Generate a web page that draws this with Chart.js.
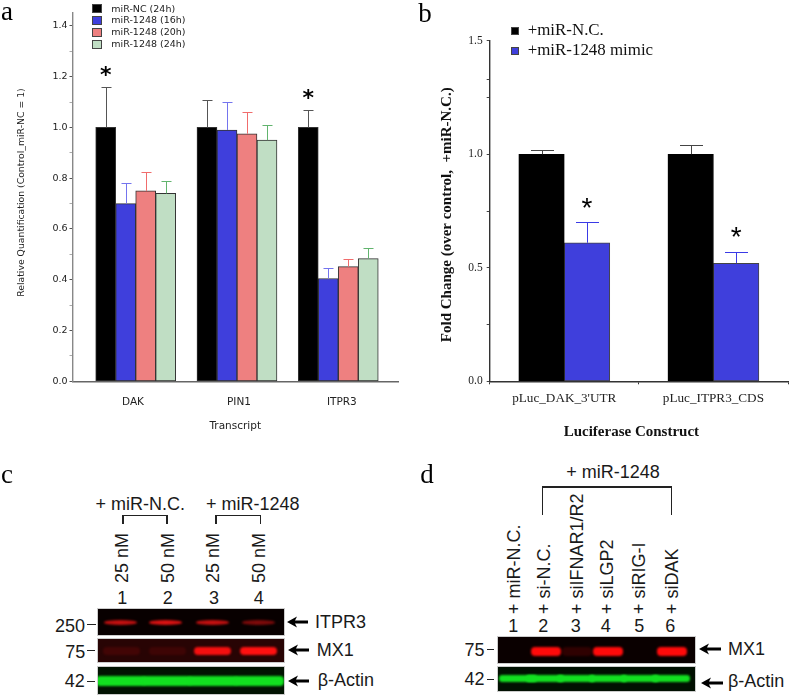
<!DOCTYPE html>
<html>
<head>
<meta charset="utf-8">
<script src="https://cdn.jsdelivr.net/npm/chart.js@4"></script>
<style>
html, body { margin: 0; padding: 0; background: #fff; }
#page { position: relative; width: 791px; height: 697px; overflow: hidden; }
#page canvas { position: absolute; }
.t { position: absolute; white-space: pre; line-height: 1; color: #1a1a1a; font-family: "Liberation Sans", sans-serif; font-size: 18px; }
.mid { transform: translate(-50%, -50%); }
.left { transform: translateY(-50%); }
.up { transform: translate(-50%, -50%) rotate(-90deg); }
.upEnd { transform-origin: 0 0; transform: rotate(-90deg) translateY(-50%); }
.blot { position: absolute; overflow: hidden; box-shadow: 0 0 0 1px #ccc; }
.band { position: absolute; filter: blur(1.2px); }
.sq { position: absolute; box-sizing: border-box; }
.ln { position: absolute; background: #222; }
</style>
</head>
<body>
<div id="page">
  <canvas id="chartA" width="400" height="440" style="left:0;top:0"></canvas>
  <canvas id="chartB" width="391" height="450" style="left:400px;top:0"></canvas>
</div>
<script>
// panel a: qPCR
const transcripts = ['DAK', 'PIN1', 'ITPR3'];
const seriesA = ['miR-NC (24h)', 'miR-1248 (16h)', 'miR-1248 (20h)', 'miR-1248 (24h)'];
const nc24 = [1.0, 1.0, 1.0];
const mir16 = [0.70, 0.99, 0.405];
const mir20 = [0.75, 0.975, 0.452];
const mir24 = [0.74, 0.95, 0.483];
const nc24Top = [1.16, 1.11, 1.07];
const mir16Top = [0.78, 1.10, 0.447];
const mir20Top = [0.825, 1.06, 0.482];
const mir24Top = [0.79, 1.01, 0.525];
const labelSpotsA = [-0.027, 1.02, 2.035];

// panel b: luciferase
const constructs = ["pLuc_DAK_3'UTR", 'pLuc_ITPR3_CDS'];
const seriesB = ['+miR-N.C.', '+miR-1248 mimic'];
const ncB = [1.0, 1.0];
const mimicB = [0.61, 0.52];
const ncBTop = [1.02, 1.04];
const mimicBTop = [0.70, 0.57];
const yTicksB = [0, 0.25, 0.5, 0.75, 1, 1.25, 1.33, 1.5];

// blots: band strength per lane
const itpr3C = [0.8, 0.9, 0.8, 0.5];
const mx1C = [0.12, 0.1, 0.95, 1];
const actinC = [1, 1, 1, 1];
const mx1D = [0, 1, 0.15, 1, 0, 1];
const actinD = [1, 1, 1, 1, 1, 1];

const colors = ['#000000', '#3f3fdc', '#ee8080', '#c0dec4'];
const errColors = ['#555555', '#7474ee', '#f06c6c', '#62b46e'];

const errorBars = {
    id: 'errorBars',
    afterDatasetsDraw(chart, args, opts) {
        const ctx = chart.ctx;
        const y = chart.scales.y;
        ctx.save();
        opts.tops.forEach((tops, ds) => {
            const meta = chart.getDatasetMeta(ds);
            ctx.strokeStyle = opts.colors[ds];
            ctx.lineWidth = 1;
            tops.forEach((top, i) => {
                const bar = meta.data[i];
                const py = Math.round(y.getPixelForValue(top)) + 0.5;
                const px = Math.round(bar.x) + 0.5;
                ctx.beginPath();
                ctx.moveTo(px, bar.y);
                ctx.lineTo(px, py);
                ctx.moveTo(px - opts.cap, py);
                ctx.lineTo(px + opts.cap, py);
                ctx.stroke();
            });
        });
        // significance stars
        ctx.fillStyle = '#000';
        ctx.font = opts.starFont;
        ctx.textAlign = 'center';
        opts.stars.forEach(s => {
            const bar = chart.getDatasetMeta(s.ds).data[s.i];
            const m = ctx.measureText('*');
            const py = y.getPixelForValue(s.at);
            ctx.fillText('*', bar.x, py + (m.actualBoundingBoxAscent - m.actualBoundingBoxDescent) / 2);
        });
        ctx.restore();
    }
};

function barSet(label, values, idx, border) {
    return {
        label,
        data: values,
        backgroundColor: colors[idx],
        borderColor: border,
        borderWidth: 1,
        borderSkipped: false
    };
}

const sansA = { family: "'DejaVu Sans'", size: 9.5 };
new Chart(document.getElementById('chartA'), {
    type: 'bar',
    data: {
        datasets: [nc24, mir16, mir20, mir24].map((vals, k) => {
            const d = barSet(seriesA[k], vals.map((v, i) => ({ x: i, y: v })), k, '#333333');
            return d;
        })
    },
    options: {
        responsive: false,
        animation: false,
        barThickness: 20,
        layout: { padding: { left: 0, right: 2, top: 12.7, bottom: 0 } },
        plugins: {
            legend: { display: false },
            tooltip: { enabled: false },
            errorBars: {
                tops: [nc24Top, mir16Top, mir20Top, mir24Top],
                colors: errColors,
                cap: 5,
                starFont: "bold 22px 'DejaVu Sans'",
                stars: [{ ds: 0, i: 0, at: 1.224 }, { ds: 0, i: 2, at: 1.132 }]
            }
        },
        scales: {
            x: {
                type: 'linear',
                offset: false,
                min: -0.624,
                max: 2.59,
                afterFit: s => { s.height = 58.7; },
                afterBuildTicks: s => { s.ticks = labelSpotsA.map(v => ({ value: v })); },
                grid: { display: false },
                border: { color: '#666', width: 1.4 },
                ticks: {
                    padding: 7,
                    maxRotation: 0,
                    autoSkip: false,
                    color: '#222',
                    font: { family: "'DejaVu Sans'", size: 10.5 },
                    callback: (v, i) => transcripts[i]
                },
                title: {
                    display: true,
                    text: 'Transcript',
                    color: '#222',
                    font: { family: "'DejaVu Sans'", size: 10.5 },
                    padding: { top: 0, bottom: 7.7 }
                }
            },
            y: {
                min: 0,
                max: 1.452,
                afterFit: s => { s.width = 72.5; },
                grid: {
                    drawOnChartArea: false,
                    tickLength: 3,
                    tickColor: c => Math.round(c.tick.value * 10) % 2 === 0 ? '#555' : '#aaa'
                },
                border: { color: '#888', width: 1.4 },
                ticks: {
                    stepSize: 0.1,
                    includeBounds: false,
                    autoSkip: false,
                    padding: 2,
                    color: '#222',
                    font: sansA,
                    callback: v => Math.round(v * 10) % 2 === 0 ? v.toFixed(1) : ''
                },
                title: {
                    display: true,
                    // leading spaces nudge the centred title up the axis
                    text: '   Relative Quantification (Control_miR-NC = 1)',
                    color: '#222',
                    font: { family: "'DejaVu Sans'", size: 9.3 },
                    padding: { top: 16.3, bottom: 0 }
                }
            }
        }
    },
    plugins: [errorBars]
});

const serifB = "'Liberation Serif'";
new Chart(document.getElementById('chartB'), {
    type: 'bar',
    data: {
        labels: constructs,
        datasets: [barSet(seriesB[0], ncB, 0, '#000'), barSet(seriesB[1], mimicB, 1, '#444')]
    },
    options: {
        responsive: false,
        animation: false,
        barThickness: 45.5,
        layout: { padding: { left: 0, right: 3, top: 40.7, bottom: 0 } },
        plugins: {
            legend: { display: false },
            tooltip: { enabled: false },
            errorBars: {
                tops: [ncBTop, mimicBTop],
                colors: ['#444', '#3a3ae6'],
                cap: 11.5,
                starFont: "28px 'Liberation Sans'",
                stars: [{ ds: 1, i: 0, at: 0.787 }, { ds: 1, i: 1, at: 0.659 }]
            }
        },
        scales: {
            x: {
                afterFit: s => { s.height = 68.7; },
                grid: { drawOnChartArea: false, tickLength: 3, tickColor: '#333', offset: true },
                border: { color: '#333', width: 1.4 },
                ticks: {
                    padding: 6,
                    maxRotation: 0,
                    color: '#222',
                    font: { family: serifB, size: 13.2 }
                },
                title: {
                    display: true,
                    // trailing spaces nudge the centred title left
                    text: 'Luciferase Construct    ',
                    color: '#111',
                    font: { family: serifB, size: 15, weight: 'bold' },
                    padding: { top: 0, bottom: 9 }
                }
            },
            y: {
                min: 0,
                max: 1.5,
                afterFit: s => { s.width = 89.7; },
                afterBuildTicks: s => { s.ticks = yTicksB.map(v => ({ value: v })); },
                grid: { drawOnChartArea: false, tickLength: 3, tickColor: '#444' },
                border: { color: '#333', width: 1.4 },
                ticks: {
                    padding: 4,
                    autoSkip: false,
                    color: '#222',
                    font: { family: serifB, size: 11.5 },
                    callback: v => (v * 100) % 50 === 0 ? v.toFixed(1) : ''
                },
                title: {
                    display: true,
                    text: 'Fold Change (over control,  +miR-N.C.)  ',
                    color: '#111',
                    font: { family: serifB, size: 15, weight: 'bold' },
                    padding: { top: 37.7, bottom: 0 }
                }
            }
        }
    },
    plugins: [errorBars]
});

// everything else sits on top as plain DOM
const page = document.getElementById('page');

function put(el, x, y) {
    el.style.left = x + 'px';
    el.style.top = y + 'px';
    page.appendChild(el);
    return el;
}

function text(str, x, y, cls, css) {
    const el = document.createElement('div');
    el.className = 't ' + (cls || 'mid');
    el.textContent = str;
    Object.assign(el.style, css || {});
    return put(el, x, y);
}

function box(cls, x, y, w, h, bg) {
    const el = document.createElement('div');
    el.className = cls;
    el.style.width = w + 'px';
    el.style.height = h + 'px';
    if (bg) el.style.background = bg;
    return put(el, x, y);
}

function blot(x, y, w, h, bg, strengths, lanes, opts) {
    const el = box('blot', x, y, w, h, bg);
    strengths.forEach((s, i) => {
        if (!s) return;
        const b = document.createElement('div');
        b.className = 'band';
        b.style.left = (lanes[i] - x - opts.w / 2) + 'px';
        b.style.top = (opts.y - y - opts.h / 2) + 'px';
        b.style.width = opts.w + 'px';
        b.style.height = opts.h + 'px';
        b.style.background = opts.color;
        b.style.opacity = s;
        b.style.borderRadius = opts.r;
        el.appendChild(b);
    });
}

function arrow(x, y, len) {
    const svg = document.createElementNS('http://www.w3.org/2000/svg', 'svg');
    svg.setAttribute('width', len);
    svg.setAttribute('height', 12);
    svg.style.position = 'absolute';
    svg.innerHTML = `<path d="M0 6 L10 0.5 L8 4.5 L${len} 4.5 L${len} 7.5 L8 7.5 L10 11.5 Z" fill="#000"/>`;
    put(svg, x, y - 6);
}

// panel letters
const letter = { fontFamily: "'Liberation Serif'", fontSize: '27px', color: '#000' };
text('a', 7, 11, 'mid', letter);
text('b', 425, 13, 'mid', letter);
text('c', 7, 474, 'mid', letter);
text('d', 427, 474, 'mid', letter);

// legend a
seriesA.forEach((name, i) => {
    const yy = [8.7, 20.3, 32.3, 44.3][i];
    const sq = box('sq', 92.3, yy - 4.5, 9.5, 9, colors[i]);
    sq.style.border = '1px solid #444';
    text(name, 111.3, yy, 'left', { fontFamily: "'DejaVu Sans'", fontSize: '9.5px', color: '#222' });
});

// legend b
seriesB.forEach((name, i) => {
    const yy = [31, 51][i];
    const sq = box('sq', 510.7, yy - 4, 8, 8, colors[i]);
    sq.style.border = '1px solid #444';
    text(name, 527.7, yy - 1, 'left', { fontFamily: "'Liberation Serif'", fontSize: '16.9px', color: '#111' });
});

// panel c
text('+ miR-N.C.', 140.3, 504.3);
text('+ miR-1248', 252.7, 504.3);
[[122.3, 166.3], [215.3, 259.7]].forEach(([l, r]) => {
    box('ln', l, 515, r - l + 1, 1.4);
    box('ln', l, 515, 1.4, 9);
    box('ln', r, 515, 1.4, 9);
});
['25 nM', '50 nM', '25 nM', '50 nM'].forEach((s, i) => {
    text(s, [122.3, 168.3, 213.3, 259.3][i], 558.3, 'up');
});
['1', '2', '3', '4'].forEach((s, i) => {
    text(s, [122.3, 167.7, 214, 258.7][i], 598.3);
});
const lanesC = [120.7, 165.7, 212.8, 259];
blot(98.3, 609, 185.7, 26, '#080000', itpr3C, lanesC, { y: 622.7, w: 33, h: 4.5, color: '#f01414', r: '50%' });
blot(98.3, 639, 185.7, 23.3, '#280404', mx1C, [122, 168, 213, 258.5], { y: 651, w: 37, h: 8.5, color: '#ff1010', r: '4px' });
blot(98.3, 667.3, 185.7, 27, '#021302', actinC, [121, 167, 213, 259], { y: 681, w: 50, h: 9.5, color: '#12e020', r: '4px' });
text('250', 70, 625.7);
text('75', 75.3, 651.7);
text('42', 74.7, 681);
box('ln', 87.3, 624, 9, 1);
box('ln', 87.3, 650, 8, 1);
box('ln', 87.3, 681, 8, 1);
arrow(287.3, 622, 21);
arrow(287.6, 650, 21);
arrow(288, 681, 21);
text('ITPR3', 315, 622, 'left');
text('MX1', 316.7, 650, 'left');
text('\u03b2-Actin', 317.7, 679.7, 'left');

// panel d
text('+ miR-1248', 613, 472);
box('ln', 542.3, 486.4, 129, 1.2);
box('ln', 542.3, 486.4, 1.2, 29);
box('ln', 670.7, 486.4, 1.2, 29);
['+ miR-N.C.', '+ si-N.C.', '+ siIFNAR1/R2', '+ siLGP2', '+ siRIG-I', '+ siDAK'].forEach((s, i) => {
    text(s, [514.3, 544, 577.3, 607.3, 639.3, 671.7][i], 614, 'upEnd');
});
['1', '2', '3', '4', '5', '6'].forEach((s, i) => {
    text(s, [513.3, 543.3, 575.7, 605.7, 639.3, 670.3][i], 625.7);
});
blot(498.3, 637.3, 196.7, 25.4, '#0a0000', mx1D, [514, 545.7, 576.7, 608, 641, 672], { y: 651.7, w: 30, h: 9.5, color: '#ff0a0a', r: '4px' });
blot(498.3, 666.7, 196.7, 24, '#011001', actinD, [518, 545, 576, 608, 640, 671], { y: 678.3, w: 38, h: 7.5, color: '#12e020', r: '3px' });
text('75', 474.5, 650);
text('42', 474.5, 679);
box('ln', 486.7, 649, 7.6, 1);
box('ln', 486.7, 678.7, 7.6, 1);
arrow(699.3, 648.7, 22);
arrow(701, 682.7, 22);
text('MX1', 728, 649.3, 'left');
text('\u03b2-Actin', 728, 681, 'left');
</script>
</body>
</html>
